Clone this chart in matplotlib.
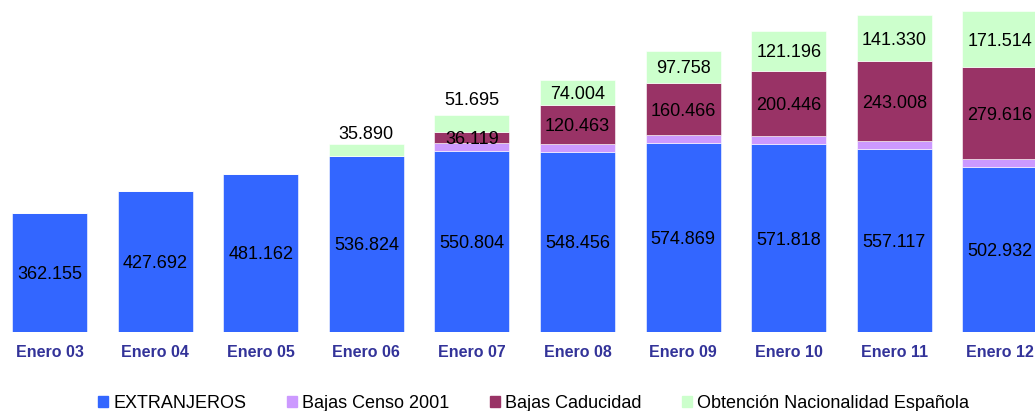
import numpy as np
import matplotlib.pyplot as plt
from matplotlib.patches import Rectangle

plt.rcParams['font.family'] = ['Liberation Sans', 'DejaVu Sans']

years = ["Enero 03", "Enero 04", "Enero 05", "Enero 06", "Enero 07",
         "Enero 08", "Enero 09", "Enero 10", "Enero 11", "Enero 12"]
extranjeros = [362155, 427692, 481162, 536824, 550804, 548456, 574869, 571818, 557117, 502932]
censo_2001 = [0, 0, 0, 0, 23000, 23000, 23000, 23000, 23000, 23000]
caducidad = [0, 0, 0, 0, 36119, 120463, 160466, 200446, 243008, 279616]
nacionalidad = [0, 0, 0, 35890, 51695, 74004, 97758, 121196, 141330, 171514]

names = ["EXTRANJEROS", "Bajas Censo 2001", "Bajas Caducidad", "Obtención Nacionalidad Española"]
colors = ["#3366FF", "#CC99FF", "#993366", "#CCFFCC"]


def fmt(v):
    return f"{v:,}".replace(",", ".")


fig = plt.figure(figsize=(10.35, 4.11), dpi=100)
ax = fig.add_axes([0, 0.1922, 1, 0.8078])

x = np.arange(len(years))
w = 0.71
series = [extranjeros, censo_2001, caducidad, nacionalidad]
bottom = np.zeros(len(years))
for vals, c in zip(series, colors):
    vals = np.array(vals)
    ax.bar(x, vals, w, bottom=bottom, color=c, edgecolor="white", linewidth=0.4)
    bottom += vals

above_offset = {3: 0.5, 4: 4}
for i in range(len(years)):
    e, p, b, n = extranjeros[i], censo_2001[i], caducidad[i], nacionalidad[i]
    ax.text(i, e / 2, fmt(e), ha="center", va="center_baseline", fontsize=13)
    if b:
        ax.text(i, e + p + b / 2, fmt(b), ha="center", va="center_baseline", fontsize=13)
    if n:
        top = e + p + b + n
        if n < 60000:
            ax.annotate(fmt(n), (i, top), xytext=(0, above_offset.get(i, 3)),
                        textcoords="offset points", ha="center", va="bottom", fontsize=13)
        else:
            ax.text(i, top - n / 2, fmt(n), ha="center", va="center_baseline", fontsize=13)

ax.set_xlim(-0.469, 9.332)
ax.set_ylim(0, 1010000)
ax.set_yticks([])
ax.set_xticks(x)
ax.set_xticklabels(years, fontsize=11.5, fontweight="bold", color="#333399")
ax.tick_params(axis="x", length=0, pad=9)
for s in ax.spines.values():
    s.set_visible(False)

handles = [Rectangle((0, 0), 1, 1, color=c) for c in colors]
fig.legend(handles, names, loc="center", bbox_to_anchor=(0.5155, 8 / 411), ncol=4,
           frameon=False, fontsize=13, handlelength=0.55, handleheight=0.55,
           handletextpad=0.28, columnspacing=2.25, borderpad=0, borderaxespad=0)

fig.savefig("out.png", dpi=100)
